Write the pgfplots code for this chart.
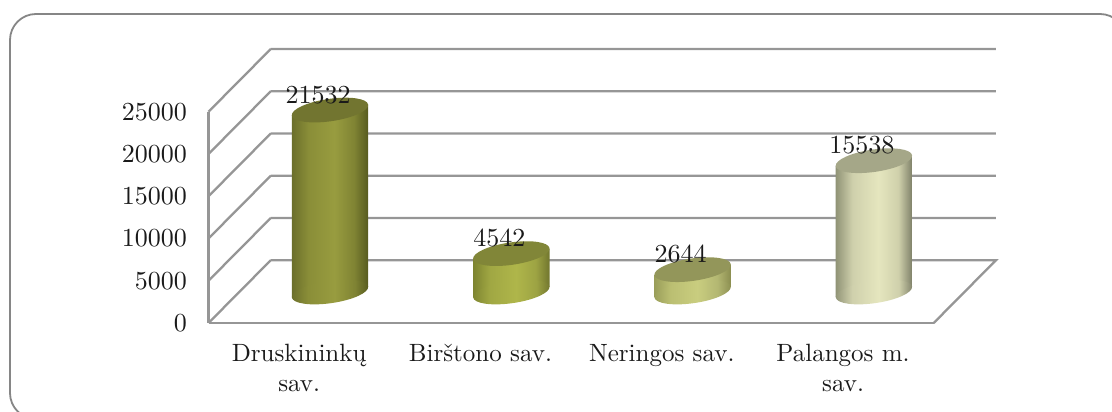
\documentclass[border=0pt]{standalone}
\usepackage{fontspec}
\setmainfont{lmroman10-regular}[Extension=.otf]
\usepackage{pgfplots}
\pgfplotsset{compat=1.18}
\definecolor{wall}{HTML}{969696}
\definecolor{framec}{HTML}{868686}
\definecolor{txt}{HTML}{1A1A1A}
\definecolor{a1}{HTML}{6B6F2B}\definecolor{a2}{HTML}{8A8E38}\definecolor{a3}{HTML}{989C3F}\definecolor{a4}{HTML}{7F8333}\definecolor{a5}{HTML}{565A1F}
\definecolor{b1}{HTML}{7D8430}\definecolor{b2}{HTML}{A0A743}\definecolor{b3}{HTML}{AFB64A}\definecolor{b4}{HTML}{9DA343}\definecolor{b5}{HTML}{71762E}
\definecolor{c1}{HTML}{9A9E5A}\definecolor{c2}{HTML}{BBBF72}\definecolor{c3}{HTML}{C9CD7F}\definecolor{c4}{HTML}{B3B772}\definecolor{c5}{HTML}{8B8E50}
\definecolor{d1}{HTML}{909376}\definecolor{d2}{HTML}{CFD0AC}\definecolor{d3}{HTML}{E5E6BE}\definecolor{d4}{HTML}{CFD0AB}\definecolor{d5}{HTML}{7F8169}
\pgfdeclarehorizontalshading{cyl1}{100bp}{color(0bp)=(a1); color(25bp)=(a1); color(36bp)=(a2); color(53bp)=(a3); color(66bp)=(a4); color(75bp)=(a5); color(100bp)=(a5)}
\pgfdeclarehorizontalshading{cyl2}{100bp}{color(0bp)=(b1); color(25bp)=(b1); color(36bp)=(b2); color(53bp)=(b3); color(66bp)=(b4); color(75bp)=(b5); color(100bp)=(b5)}
\pgfdeclarehorizontalshading{cyl3}{100bp}{color(0bp)=(c1); color(25bp)=(c1); color(36bp)=(c2); color(53bp)=(c3); color(66bp)=(c4); color(75bp)=(c5); color(100bp)=(c5)}
\pgfdeclarehorizontalshading{cyl4}{100bp}{color(0bp)=(d1); color(25bp)=(d1); color(36bp)=(d2); color(53bp)=(d3); color(66bp)=(d4); color(75bp)=(d5); color(100bp)=(d5)}
\newcommand\basemark[2]{\pgfdeclareplotmark{#1}{\pgfpathellipse{\pgfpointorigin}{\pgfpoint{38.17pt}{5.47pt}}{\pgfpoint{-1.59pt}{11.09pt}}\pgfshadepath{#2}{0}\pgfusepath{discard}}}
\basemark{base1}{cyl1}\basemark{base2}{cyl2}\basemark{base3}{cyl3}\basemark{base4}{cyl4}
\pgfdeclareplotmark{topm}{\pgfpathellipse{\pgfpointorigin}{\pgfpoint{38.17pt}{5.47pt}}{\pgfpoint{-1.59pt}{11.09pt}}\pgfusepathqfill}
\newcommand\lab{\fontsize{25}{30}\selectfont\color{txt}}
\newcommand\num{\fontsize{26}{30}\selectfont\color{txt}}
\pgfplotsset{cylax/.style={scale only axis,width=725.2pt,height=211.25pt,xmin=-0.5,xmax=3.5,ymin=0,ymax=25000,clip=false},
 top/.style={only marks,mark=topm,mark options={fill=#1},fill=#1,
  nodes near coords,point meta=explicit symbolic,
  every node near coord/.style={anchor=base,xshift=-12pt,yshift=7pt,font=\num,inner sep=0pt}}}
\begin{document}
\begin{tikzpicture}[x=1pt,y=1pt]
\path[use as bounding box] (0,0) rectangle (1112,412);
\clip (0,0) rectangle (1112,412);
\draw[framec,line width=1.8pt,rounded corners=26pt] (10,-7) rectangle (1126,398);
\begin{axis}[cylax,at={(208.5pt,89pt)},
  axis x line=bottom,axis y line=left,
  axis line style={-,wall,line width=2.3pt},
  major tick length=0pt,
  scaled y ticks=false,
  ytick={0,5000,10000,15000,20000,25000},
  xtick={0,1,2,3},
  xticklabels={{Druskininkų\\sav.},{Birštono sav.},{Neringos sav.},{Palangos m.\\sav.}},
  xticklabel style={font=\lab,align=center,anchor=north,yshift=-21pt,inner sep=0pt},
  yticklabel style={font=\num,anchor=east,xshift=-21.5pt,inner sep=0pt},
  /pgf/number format/1000 sep={},
  /pgf/number format/assume math mode=true,
  unbounded coords=jump]
\addplot[wall,line width=2.3pt,no markers] coordinates {
 (-0.157,7420) (3.843,7420) (3.5,0) (nan,nan)
 (-0.157,12420) (3.843,12420) (nan,nan)
 (-0.157,17420) (3.843,17420) (nan,nan)
 (-0.157,22420) (3.843,22420) (nan,nan)
 (-0.157,27420) (3.843,27420) (nan,nan)
 (-0.157,32420) (3.843,32420) (nan,nan)
 (-0.5,0) (-0.157,7420) (nan,nan)
 (-0.5,5000) (-0.157,12420) (nan,nan)
 (-0.5,10000) (-0.157,17420) (nan,nan)
 (-0.5,15000) (-0.157,22420) (nan,nan)
 (-0.5,20000) (-0.157,27420) (nan,nan)
 (-0.5,25000) (-0.157,32420)
};
\end{axis}
\begin{axis}[cylax,at={(239.35pt,120pt)},hide axis]
% cylinder walls
\addplot[draw=none,no markers,shade,shading=cyl1,shading angle=0] coordinates {(-0.2107,-592) (0.2107,592) (0.2107,22124) (-0.2107,20940)} --cycle;
\addplot[draw=none,no markers,shade,shading=cyl2,shading angle=0] coordinates {(0.7893,-592) (1.2107,592) (1.2107,5134) (0.7893,3950)} --cycle;
\addplot[draw=none,no markers,shade,shading=cyl3,shading angle=0] coordinates {(1.7893,-592) (2.2107,592) (2.2107,3236) (1.7893,2052)} --cycle;
\addplot[draw=none,no markers,shade,shading=cyl4,shading angle=0] coordinates {(2.7893,-592) (3.2107,592) (3.2107,16130) (2.7893,14946)} --cycle;
% lower rims
\addplot[only marks,mark=base1] coordinates {(0,0)};
\addplot[only marks,mark=base2] coordinates {(1,0)};
\addplot[only marks,mark=base3] coordinates {(2,0)};
\addplot[only marks,mark=base4] coordinates {(3,0)};
% tops with value labels
\definecolor{t1}{HTML}{727530}\definecolor{t2}{HTML}{818638}\definecolor{t3}{HTML}{93965A}\definecolor{t4}{HTML}{A5A788}
\addplot[top=t1] coordinates {(0,21532) [21532]};
\addplot[top=t2] coordinates {(1,4542) [4542]};
\addplot[top=t3] coordinates {(2,2644) [2644]};
\addplot[top=t4] coordinates {(3,15538) [15538]};
\end{axis}
\end{tikzpicture}
\end{document}
